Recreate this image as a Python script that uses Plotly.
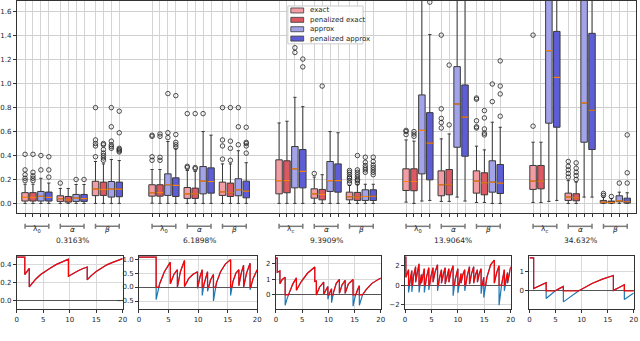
import numpy as np
import plotly.graph_objects as go

# ---- box plot data: 15 boxes per series, ordered group 1..5 x (lambda, alpha, beta)
SERIES = ["exact", "penalized exact", "approx", "penalized approx"]
COLORS = ["#F29CA4", "#DC5862", "#A2A3E8", "#5D5ED6"]

EXACT_Q1 = [0.02, 0.017, 0.065, 0.061, 0.042, 0.067, 0.08, 0.044, 0.03, 0.108, 0.064, 0.086, 0.117, 0.025, 0.003]
EXACT_MED = [0.05, 0.039, 0.12, 0.089, 0.08, 0.097, 0.19, 0.08, 0.056, 0.183, 0.156, 0.186, 0.186, 0.053, 0.01]
EXACT_Q3 = [0.09, 0.064, 0.185, 0.156, 0.133, 0.178, 0.364, 0.122, 0.094, 0.289, 0.272, 0.272, 0.317, 0.086, 0.025]
EXACT_LO = [0, 0, 0, 0.002, 0, 0, 0, 0, 0, 0.011, 0.017, 0.008, 0.008, 0, 0]
EXACT_HI = [0.16, 0.125, 0.35, 0.283, 0.275, 0.33, 0.672, 0.22, 0.15, 0.53, 0.539, 0.478, 0.511, 0.19, 0.053]
EXACT_OUT = [[0.19, 0.21, 0.24, 0.28, 0.41], [0.17], [0.39, 0.48, 0.50, 0.53, 0.80],
             [0.36, 0.39, 0.56, 0.57], [0.30, 0.31, 0.75], [0.37, 0.48, 0.53, 0.80],
             [], [0.25], [0.17, 0.19, 0.21, 0.22, 0.24, 0.26, 0.275],
             [0.575, 0.60, 0.61], [0.63, 0.675, 0.71, 0.79, 1.405], [0.63, 0.64, 0.69, 0.87, 0.88],
             [0.645, 1.405], [0.22, 0.25, 0.28, 0.31, 0.35], [0.067, 0.083]]

PEXACT_Q1 = [0.02, 0.011, 0.067, 0.061, 0.042, 0.058, 0.089, 0.03, 0.025, 0.106, 0.072, 0.072, 0.122, 0.022, 0.003]
PEXACT_MED = [0.05, 0.03, 0.115, 0.09, 0.08, 0.089, 0.19, 0.075, 0.053, 0.183, 0.156, 0.172, 0.186, 0.047, 0.008]
PEXACT_Q3 = [0.09, 0.058, 0.178, 0.156, 0.128, 0.17, 0.356, 0.117, 0.092, 0.289, 0.283, 0.256, 0.317, 0.081, 0.02]
PEXACT_LO = [0, 0, 0, 0, 0, 0, 0, 0, 0, 0, 0.017, 0.008, 0.008, 0, 0]
PEXACT_HI = [0.16, 0.125, 0.33, 0.283, 0.267, 0.33, 0.686, 0.24, 0.16, 0.52, 0.58, 0.447, 0.511, 0.178, 0.04]
PEXACT_OUT = [[0.19, 0.21, 0.23, 0.26, 0.41], [], [0.36, 0.38, 0.40, 0.42, 0.45, 0.49, 0.50],
              [0.36, 0.385, 0.56, 0.58], [0.29, 0.30, 0.75], [0.36, 0.46, 0.52, 0.80],
              [], [0.98], [0.17, 0.19, 0.20, 0.22, 0.24, 0.26, 0.28, 0.40],
              [0.56, 0.58, 0.60], [0.656, 1.155], [0.572, 0.586, 0.622, 0.714, 0.775],
              [], [0.20, 0.233, 0.26, 0.294, 0.339], [0.058]]

APPROX_Q1 = [0.02, 0.017, 0.053, 0.067, 0.08, 0.064, 0.13, 0.10, 0.025, 0.247, 0.469, 0.094, 0.67, 0.511, 0.014]
APPROX_MED = [0.06, 0.045, 0.12, 0.156, 0.186, 0.114, 0.289, 0.19, 0.058, 0.61, 0.83, 0.178, 1.275, 0.839, 0.022]
APPROX_Q3 = [0.10, 0.075, 0.183, 0.247, 0.308, 0.206, 0.475, 0.35, 0.114, 0.906, 1.142, 0.356, 1.9, 1.9, 0.064]
APPROX_LO = [0, 0, 0, 0, 0, 0, 0, 0, 0, 0.02, 0.053, 0, 0.017, 0.053, 0]
APPROX_HI = [0.21, 0.158, 0.367, 0.517, 0.60, 0.44, 0.886, 0.60, 0.16, 2.5, 2.5, 0.678, 2.5, 2.5, 0.094]
APPROX_OUT = [[0.28, 0.40], [0.20], [0.46, 0.475, 0.49, 0.52, 0.64, 0.80],
              [0.55, 0.59, 0.917], [0.75], [0.49, 0.64, 0.80],
              [1.26, 1.30], [], [0.26, 0.28, 0.297, 0.317, 0.344, 0.386],
              [], [], [0.85, 0.997],
              [], [], [0.17]]

PAPPROX_Q1 = [0.02, 0.017, 0.056, 0.058, 0.086, 0.047, 0.13, 0.094, 0.025, 0.197, 0.394, 0.083, 0.636, 0.45, 0.003]
PAPPROX_MED = [0.05, 0.04, 0.12, 0.15, 0.183, 0.103, 0.267, 0.19, 0.06, 0.503, 0.72, 0.169, 1.053, 0.778, 0.014]
PAPPROX_Q3 = [0.095, 0.075, 0.178, 0.214, 0.297, 0.186, 0.45, 0.33, 0.114, 0.758, 0.989, 0.325, 1.436, 1.42, 0.044]
PAPPROX_LO = [0, 0, 0, 0, 0, 0, 0, 0, 0, 0.025, 0.02, 0, 0.025, 0.053, 0]
PAPPROX_HI = [0.17, 0.158, 0.358, 0.456, 0.57, 0.34, 0.808, 0.59, 0.16, 1.41, 2.5, 0.636, 2.5, 2.5, 0.089]
PAPPROX_OUT = [[0.22, 0.28, 0.39], [0.20], [0.43, 0.44, 0.45, 0.46, 0.59, 0.77],
               [0.47, 0.49, 0.51, 0.575, 0.90], [], [0.42, 0.48, 0.50, 0.51, 0.636],
               [1.14, 1.205], [], [0.24, 0.26, 0.28, 0.30, 0.32, 0.35, 0.386],
               [1.68], [], [0.728, 0.914, 0.98, 1.19],
               [], [], [0.17, 0.256, 0.572]]

STATS = [
    (EXACT_Q1, EXACT_MED, EXACT_Q3, EXACT_LO, EXACT_HI, EXACT_OUT),
    (PEXACT_Q1, PEXACT_MED, PEXACT_Q3, PEXACT_LO, PEXACT_HI, PEXACT_OUT),
    (APPROX_Q1, APPROX_MED, APPROX_Q3, APPROX_LO, APPROX_HI, APPROX_OUT),
    (PAPPROX_Q1, PAPPROX_MED, PAPPROX_Q3, PAPPROX_LO, PAPPROX_HI, PAPPROX_OUT),
]

PARAM_LABELS = [["λ<sub>0</sub>", "<i>α</i>", "<i>β</i>"],
                ["λ<sub>0</sub>", "<i>α</i>", "<i>β</i>"],
                ["λ<sub>c</sub>", "<i>α</i>", "<i>β</i>"],
                ["λ<sub>0</sub>", "<i>α</i>", "<i>β</i>"],
                ["λ<sub>c</sub>", "<i>α</i>", "<i>β</i>"]]
PERCENTS = ["0.3163%", "6.1898%", "9.3909%", "13.9064%", "34.632%"]

# ---- time series for the five small panels (signal values)
T1 = [0, 1.5, 1.5, 1.9, 2.35, 2.35, 3.0, 3.6, 4.5, 5.5, 6.5, 7.5, 8.5, 9.75, 9.75, 10.5, 11.5, 12.4, 13.3, 13.3,
      14.0, 15.0, 16.0, 17.0, 18.0, 19.0, 20.0]
V1 = [0.488, 0.488, 0.29, 0.33, 0.36, 0.15, 0.20, 0.24, 0.29, 0.335, 0.37, 0.405, 0.435, 0.465, 0.27, 0.30, 0.33,
      0.355, 0.375, 0.23, 0.275, 0.325, 0.365, 0.40, 0.425, 0.45, 0.47]

T2 = [0, 2.9, 2.9, 3.3, 3.5, 4.3, 5.3, 5.3, 5.9, 6.5, 6.5, 7.0, 7.7, 7.7, 8.4, 9.1, 9.9, 9.9, 10.3, 10.7,
      10.7, 11.0, 11.6, 11.6, 12.1, 12.6, 12.6, 13.1, 13.8, 14.6, 15.5, 15.5, 15.9, 16.4, 16.9, 16.9, 17.3, 17.7,
      17.7, 18.2, 18.8, 18.8, 19.3, 20.0]
V2 = [1.07, 1.07, -0.45, -0.05, 0.12, 0.55, 0.89, 0.12, 0.45, 0.62, 0.0, 0.55, 0.95, 0.02, 0.30, 0.45, 0.55,
      -0.05, 0.35, 0.62, -0.3, 0.1, 0.55, -0.15, 0.25, 0.45, -0.5, 0.15, 0.55, 0.82, 0.98, -0.3, 0.2, 0.5, 0.62,
      0.05, 0.5, 0.78, 0.0, 0.5, 0.85, -0.1, 0.3, 0.62]

T3 = [0, 0.25, 0.25, 0.75, 0.75, 1.2, 1.75, 1.75, 2.1, 2.6, 3.2, 3.9, 3.9, 4.8, 6.0, 7.4, 7.4, 7.7, 7.7, 8.3,
      9.1, 9.1, 9.5, 9.9, 9.9, 10.2, 10.6, 10.6, 11.0, 11.5, 12.1, 12.1, 12.6, 13.2, 13.2, 13.8, 14.7, 14.7, 15.1,
      15.5, 15.9, 15.9, 16.5, 17.2, 18.3, 20.0]
V3 = [2.38, 2.38, 1.47, 1.55, 0.72, 1.0, 1.15, -0.66, -0.25, 0.2, 0.7, 1.1, 0.3, 0.85, 1.4, 1.8, 0.87, 0.9, 0.0,
      0.5, 0.83, 0.05, 0.35, 0.55, -0.28, 0.1, 0.4, -0.5, 0.2, 0.75, 1.0, 0.1, 0.65, 0.95, 0.1, 0.7, 1.0, -0.72,
      -0.1, 0.3, 0.6, -0.66, 0.0, 0.35, 0.75, 1.1]

T4 = [0, 0.15, 0.15, 0.4, 0.66, 0.66, 0.95, 1.28, 1.28, 1.6, 2.0, 2.0, 2.3, 2.65, 2.65, 2.85, 3.1, 3.1, 3.35,
      3.65, 3.65, 4.05, 4.5, 4.5, 4.9, 5.3, 5.3, 5.7, 6.15, 6.15, 6.5, 6.9, 6.9, 7.25, 7.6, 7.6, 7.95, 8.3, 8.3,
      8.7, 9.1, 9.1, 9.5, 10.0, 10.0, 10.3, 10.6, 10.6, 10.95, 11.3, 11.3, 11.75, 12.2, 12.2, 12.6, 13.0, 13.0,
      13.35, 13.7, 13.7, 14.05, 14.4, 14.4, 14.65, 14.9, 14.9, 15.5, 16.2, 16.9, 16.9, 17.35, 17.8, 17.8, 18.3,
      18.8, 18.8, 19.1, 19.4, 19.4, 19.7, 20.0]
V4 = [2.9, 2.9, 0.8, 1.3, 1.6, -0.76, 0.6, 1.5, -0.7, 0.9, 1.9, 0.3, 1.3, 2.2, -0.76, 0.3, 1.1, 0.2, 1.0, 1.7,
      -0.76, 0.8, 1.8, -0.5, 0.9, 1.8, 0.3, 1.4, 2.1, -0.6, 0.7, 1.6, 0.2, 1.2, 1.8, 0.1, 1.1, 1.7, 0.3, 1.4,
      2.0, -1.1, 0.6, 1.7, -0.8, 0.5, 1.2, 0.2, 1.1, 1.6, -0.6, 0.9, 1.9, 0.1, 1.2, 1.9, 0.2, 1.1, 1.6, 0.3,
      1.2, 1.7, -0.9, 0.1, 0.8, -1.3, 0.8, 2.1, 2.6, 0.2, 1.3, 2.0, -2.08, 0.1, 1.6, -0.6, 0.6, 1.3, 0.2, 1.2,
      1.9]

T5 = [0, 0.8, 0.8, 2.0, 3.2, 3.2, 4.9, 5.7, 6.5, 6.5, 9.4, 12.0, 14.0, 16.1, 16.1, 17.2, 18.2, 18.2, 20.0]
V5 = [1.67, 1.67, 0.12, 0.27, 0.42, -0.38, 0.0, 0.12, 0.23, -0.55, 0.0, 0.38, 0.6, 0.78, 0.03, 0.18, 0.32,
      -0.43, -0.1]

PANELS = [(T1, V1), (T2, V2), (T3, V3), (T4, V4), (T5, V5)]
PANEL_YRANGE = [[-0.105, 0.503], [-0.80, 1.12], [-0.93, 2.53], [-2.52, 3.04], [-0.93, 1.78]]
PANEL_YTICKS = [[0.0, 0.2, 0.4], [-0.5, 0.0, 0.5, 1.0], [0, 1, 2], [-2, 0, 2], [0, 1]]
PANEL_YTEXT = [["0.0", "0.2", "0.4"], ["−0.5", "0.0", "0.5", "1.0"], ["0", "1", "2"], ["−2", "0", "2"], ["0", "1"]]

# ---- layout constants (pixels of a 640x341 canvas)
W, H = 640, 341
G_STEP, S_STEP, BOX_W = 16.05, 4.45, 0.82
PANEL_PX = [(14, 121), (137.5, 257), (276, 382), (406.5, 513.3), (532.3, 637.7)]
FONT = dict(family="DejaVu Sans", size=7, color="#262626")


def px(x, y):
    return x / W, 1 - y / H


def positions(b):
    return [g * G_STEP + s * S_STEP + b for g in range(5) for s in range(3)]


def clip_positive(t, v):
    # red curve: the signal clipped at zero, with the zero crossings kept
    tt, vv = [t[0]], [max(v[0], 0.0)]
    for i in range(1, len(t)):
        t0, v0, t1, v1 = t[i - 1], v[i - 1], t[i], v[i]
        if (v0 < 0 < v1) or (v1 < 0 < v0):
            tt.append(t0 + (t1 - t0) * (0 - v0) / (v1 - v0))
            vv.append(0.0)
        tt.append(t1)
        vv.append(max(v1, 0.0))
    return tt, vv


fig = go.Figure()

# boxes
for b, (name, color, st) in enumerate(zip(SERIES, COLORS, STATS)):
    q1, med, q3, lo, hi, out = st
    fig.add_trace(go.Box(
        x=positions(b), q1=q1, median=med, q3=q3, lowerfence=lo, upperfence=hi,
        name=name, width=BOX_W, fillcolor=color, whiskerwidth=0.5,
        line=dict(color="#3a3a3a", width=1), boxpoints=False,
        xaxis="x", yaxis="y", hoverinfo="skip", showlegend=False,
    ))

# medians and outliers
for b, st in enumerate(STATS):
    q1, med, q3, lo, hi, out = st
    mx, my, ox, oy = [], [], [], []
    for p, m, o in zip(positions(b), med, out):
        mx += [p - BOX_W / 2, p + BOX_W / 2, None]
        my += [m, m, None]
        ox += [p] * len(o)
        oy += o
    fig.add_trace(go.Scatter(x=mx, y=my, mode="lines", line=dict(color="#ff7f0e", width=1.2),
                             showlegend=False, xaxis="x", yaxis="y", hoverinfo="skip"))
    fig.add_trace(go.Scatter(x=ox, y=oy, mode="markers", showlegend=False, xaxis="x", yaxis="y",
                             marker=dict(symbol="circle-open", size=4.5, color="#222",
                                         line=dict(width=0.8)), hoverinfo="skip"))

# small panels
for i, (t, v) in enumerate(PANELS):
    ax = str(i + 2)
    fig.add_trace(go.Scatter(x=t, y=v, mode="lines", line=dict(color="#1f77b4", width=1.2),
                             showlegend=False, xaxis="x" + ax, yaxis="y" + ax))
    rt, rv = clip_positive(t, v)
    fig.add_trace(go.Scatter(x=rt, y=rv, mode="lines", line=dict(color="#ff0000", width=1.2),
                             showlegend=False, xaxis="x" + ax, yaxis="y" + ax))

all_pos = sorted(p for b in range(4) for p in positions(b))

layout = dict(
    width=W, height=H, margin=dict(l=0, r=0, t=0, b=0),
    paper_bgcolor="white", plot_bgcolor="white", boxmode="overlay",
    font=FONT, showlegend=False,
    xaxis=dict(domain=[14 / W, 1.0], range=[-1.04, 77.21], tickvals=all_pos, showticklabels=False,
               ticks="outside", ticklen=3, tickcolor="#333", showgrid=True, gridcolor="#d4d4d4",
               gridwidth=1, showline=True, linecolor="#333", linewidth=1, mirror=True, zeroline=False),
    yaxis=dict(domain=[1 - 213 / H, 1.0], range=[-0.083, 1.69], tickvals=[0.2 * k for k in range(9)],
               ticktext=["%.1f" % (0.2 * k) for k in range(9)], ticks="outside", ticklen=3, tickcolor="#333",
               showgrid=True, gridcolor="#cfcfcf", gridwidth=1, showline=True, linecolor="#333",
               linewidth=1, mirror=True, zeroline=False, tickfont=FONT),
)

for i in range(5):
    ax = str(i + 2)
    x0, x1 = PANEL_PX[i]
    layout["xaxis" + ax] = dict(domain=[x0 / W, x1 / W], range=[0, 20], anchor="y" + ax,
                                tickvals=[0, 5, 10, 15, 20], ticks="outside", ticklen=3, tickcolor="#333",
                                showgrid=True, gridcolor="#d9d9d9", showline=True, linecolor="#333",
                                mirror=True, zeroline=False, tickfont=FONT)
    layout["yaxis" + ax] = dict(domain=[1 - 309.3 / H, 1 - 255.5 / H], range=PANEL_YRANGE[i],
                                anchor="x" + ax, tickvals=PANEL_YTICKS[i], ticktext=PANEL_YTEXT[i],
                                ticks="outside", ticklen=3, tickcolor="#333", showgrid=True,
                                gridcolor="#d9d9d9", showline=True, linecolor="#333", mirror=True,
                                zeroline=True, zerolinecolor="#555", zerolinewidth=1.2, tickfont=FONT)

fig.update_layout(**layout)

# brackets under each parameter block, with parameter and percentage labels
y_br, y_cap = 1 - 226 / H, 2.5 / H
first = positions(0)
last = positions(3)
for g in range(5):
    for s in range(3):
        k = g * 3 + s
        a, b = first[k], last[k]
        line = dict(color="#7a7a7a", width=1.5)
        fig.add_shape(type="line", xref="x", yref="paper", x0=a, x1=b, y0=y_br, y1=y_br, line=line)
        fig.add_shape(type="line", xref="x", yref="paper", x0=a, x1=a, y0=y_br - y_cap, y1=y_br + y_cap, line=line)
        fig.add_shape(type="line", xref="x", yref="paper", x0=b, x1=b, y0=y_br - y_cap, y1=y_br + y_cap, line=line)
        fig.add_annotation(x=(a + b) / 2, y=1 - 236 / H, xref="x", yref="paper", text=PARAM_LABELS[g][s],
                           showarrow=False, font=dict(family="DejaVu Sans", size=7.5, color="#262626"))
    mid = (first[g * 3] + last[g * 3 + 2]) / 2
    fig.add_annotation(x=mid, y=1 - 246.5 / H, xref="x", yref="paper", text=PERCENTS[g], showarrow=False,
                       font=dict(family="DejaVu Sans", size=7.5, color="#262626"))

# legend box drawn by hand (compact, matplotlib-like)
lx0, ly0, lx1, ly1 = px(288, 5) + px(364, 43)
fig.add_shape(type="rect", xref="paper", yref="paper", x0=lx0, y0=ly1, x1=lx1, y1=ly0,
              fillcolor="rgba(255,255,255,0.85)", line=dict(color="#cccccc", width=1))
for i, (name, color) in enumerate(zip(SERIES, COLORS)):
    yc = 9.5 + 9.4 * i
    a0, b0 = px(291, yc - 2.5)
    a1, b1 = px(304, yc + 2.5)
    fig.add_shape(type="rect", xref="paper", yref="paper", x0=a0, y0=b1, x1=a1, y1=b0,
                  fillcolor=color, line=dict(color="#3a3a3a", width=0.8))
    tx, ty = px(308, yc)
    fig.add_annotation(x=tx, y=ty, xref="paper", yref="paper", text=name, showarrow=False,
                       xanchor="left", yanchor="middle",
                       font=dict(family="DejaVu Sans", size=7, color="#262626"))

fig.write_html("out.html", config={"displayModeBar": False},
               post_script="document.body.style.margin='0px';")
